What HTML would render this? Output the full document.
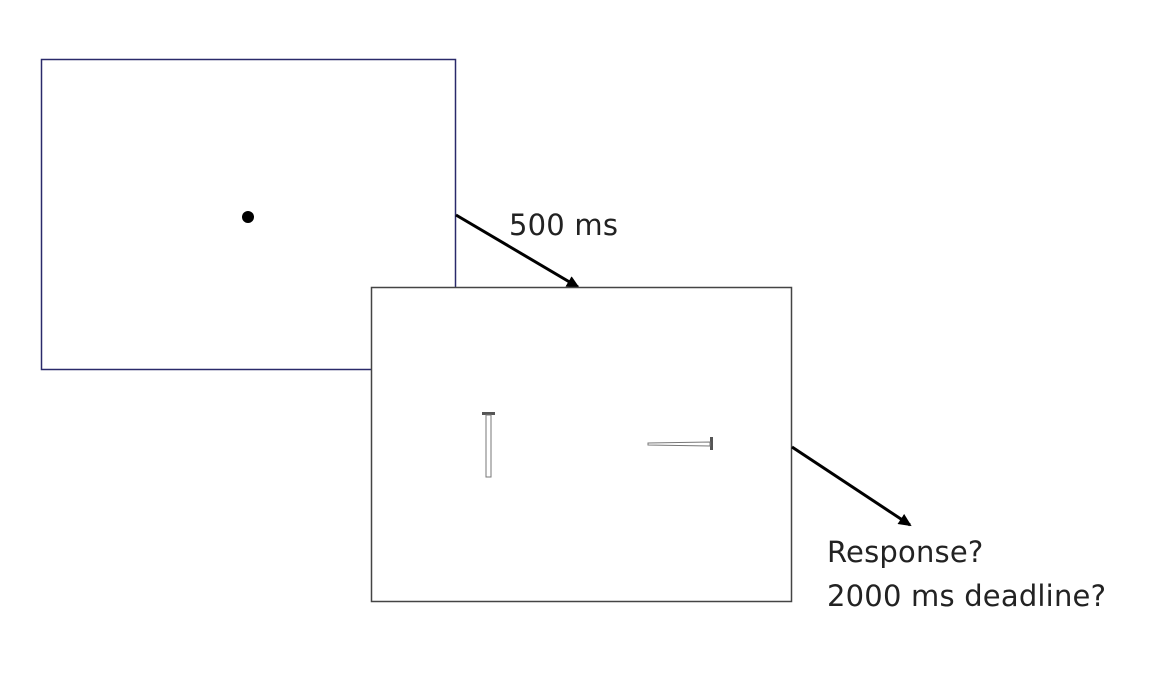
<!DOCTYPE html>
<html><head><style>
body{margin:0;width:1149px;height:681px;background:#fff;overflow:hidden;position:relative;font-family:"DejaVu Sans","Liberation Sans",sans-serif}
.t{position:absolute;font-size:29px;color:#222;white-space:nowrap;line-height:1;letter-spacing:0.2px}
</style></head><body>
<svg width="1149" height="681" style="position:absolute;left:0;top:0">
<defs><marker id="a" markerWidth="13" markerHeight="12" refX="11" refY="6" orient="auto" markerUnits="userSpaceOnUse"><path d="M0,0 L13,6 L0,12 z" fill="#000"/></marker></defs>
<rect x="41.5" y="59.5" width="414" height="310" fill="#fff" stroke="#2a2a6a" stroke-width="1.5"/>
<circle cx="248" cy="217" r="6" fill="#000"/>
<line x1="456" y1="215" x2="578" y2="287" stroke="#000" stroke-width="3" marker-end="url(#a)"/>
<rect x="371.5" y="287.5" width="420" height="314" fill="#fff" stroke="#444" stroke-width="1.5"/>
<line x1="792" y1="447" x2="910" y2="525" stroke="#000" stroke-width="3" marker-end="url(#a)"/>
<rect x="482" y="412" width="13" height="3" fill="#555"/>
<rect x="486" y="415" width="5" height="62" fill="#fff" stroke="#777" stroke-width="1"/>
<rect x="710" y="437" width="3" height="13" fill="#555"/>
<path d="M648,443 L710,442 L710,446 L648,445 z" fill="#fff" stroke="#777" stroke-width="1"/>
</svg>
<div class="t" style="left:509px;top:211px">500 ms</div>
<div class="t" style="left:827px;top:538px">Response?</div>
<div class="t" style="left:827px;top:582px">2000 ms deadline?</div>
</body></html>
